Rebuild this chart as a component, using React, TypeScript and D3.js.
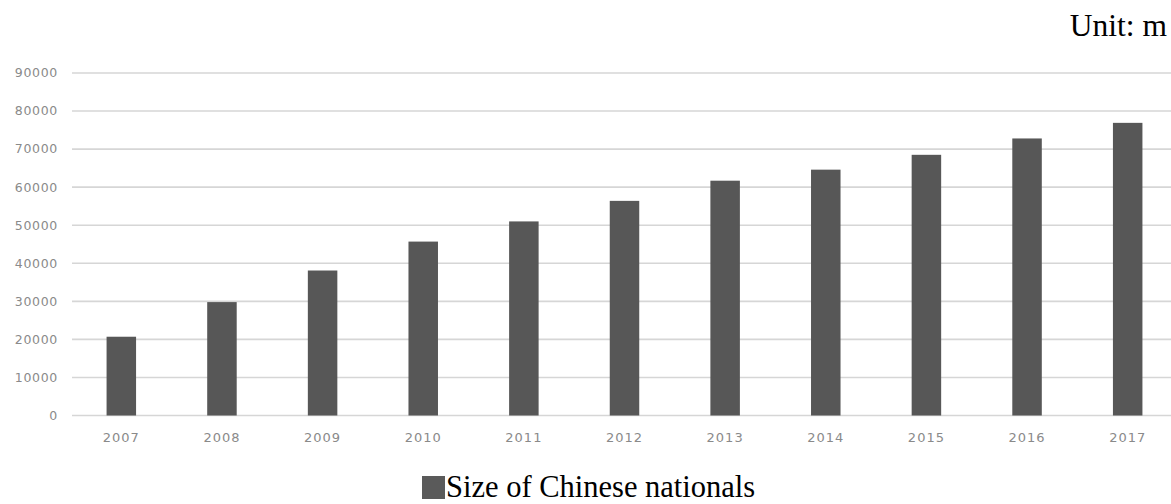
import React from "react";
import * as d3 from "d3";

const years = ["2007", "2008", "2009", "2010", "2011", "2012", "2013", "2014", "2015", "2016", "2017"];
const sizes = [20700, 29800, 38100, 45700, 51000, 56400, 61700, 64600, 68500, 72800, 76900];
const yTicks = [0, 10000, 20000, 30000, 40000, 50000, 60000, 70000, 80000, 90000];
const legendLabel = "Size of Chinese nationals";
const unitLabel = "Unit: m";

export default function App() {
  const W = 1171;
  const H = 504;
  const x = d3.scaleBand<string>().domain(years).range([71, 1178]).paddingInner(0.7).paddingOuter(0.35);
  const y = d3.scaleLinear().domain([0, 90000]).range([415.5, 73]);
  const bw = 29.5;
  return (
    <>
      <style>{"body{margin:0;}"}</style>
      <svg width={W} height={H} style={{ display: "block", background: "#fff" }}>
        {yTicks.map((t) => (
          <g key={t}>
            <line x1={72} x2={1171} y1={y(t)} y2={y(t)} stroke="#d6d6d6" strokeWidth={1.6} />
            <text
              x={58}
              y={y(t)}
              dy="0.35em"
              textAnchor="end"
              fontFamily="DejaVu Sans"
              fontSize={12.5}
              letterSpacing={0.7}
              fill="#8a8a8a"
            >
              {t}
            </text>
          </g>
        ))}
        {years.map((yr, i) => {
          const cx = (x(yr) as number) + x.bandwidth() / 2;
          return (
            <g key={yr}>
              <rect x={cx - bw / 2} y={y(sizes[i])} width={bw} height={y(0) - y(sizes[i])} fill="#575757" />
              <text
                x={cx}
                y={437.5}
                dy="0.35em"
                textAnchor="middle"
                fontFamily="DejaVu Sans"
                fontSize={13}
                letterSpacing={1}
                fill="#8a8a8a"
              >
                {yr}
              </text>
            </g>
          );
        })}
        <rect x={422} y={476} width={23} height={23} fill="#5a5a5a" />
        <text x={446} y={497} fontFamily="Liberation Serif" fontSize={30.5} fill="#000">
          {legendLabel}
        </text>
        <text x={1167} y={36} textAnchor="end" fontFamily="Liberation Serif" fontSize={31.5} fill="#000">
          {unitLabel}
        </text>
      </svg>
    </>
  );
}
